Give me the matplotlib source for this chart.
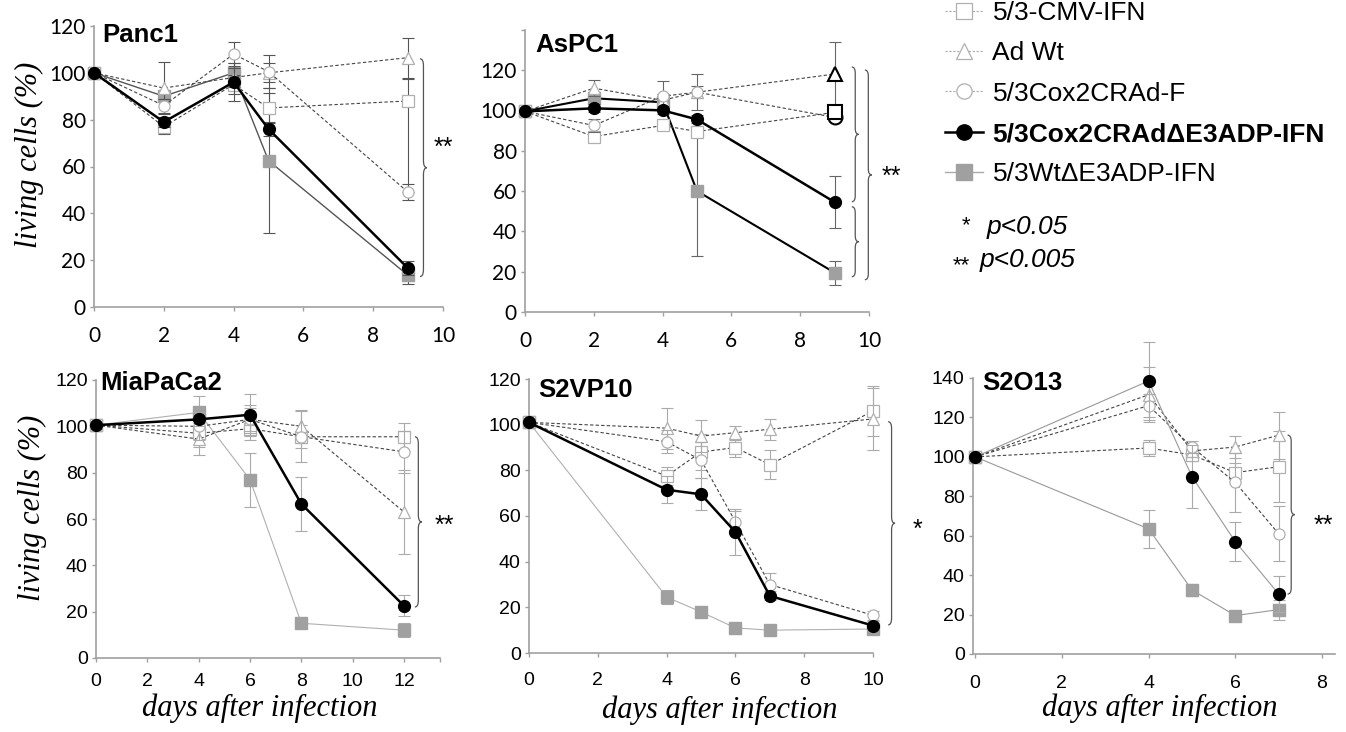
import numpy as np
import matplotlib
matplotlib.use("Agg")
import matplotlib.pyplot as plt
from matplotlib.lines import Line2D
from matplotlib.path import Path
from matplotlib.patches import PathPatch
from matplotlib.transforms import blended_transform_factory

plt.rcParams['font.family'] = ['Liberation Sans', 'DejaVu Sans']

# series order: CMV, Ad Wt, CRAd-F, CRAd dE3ADP, Wt dE3ADP
series = ['5/3-CMV-IFN', 'Ad Wt', '5/3Cox2CRAd-F',
          '5/3Cox2CRAd\u0394E3ADP-IFN', '5/3Wt\u0394E3ADP-IFN']

# Panc1
panc1_days = [0, 2, 4, 5, 9]
panc1_vals = [[100, 77, 95, 85, 88],
              [100, 93.5, 98, 100, 106.5],
              [100, 86, 108, 100.5, 49],
              [100, 79, 96, 76, 16.5],
              [100, 90, 100, 62.5, 13.5]]
panc1_hi = [[0, 3, 4, 6.5, 9.5],
            [0, 11, 4, 4, 8.5],
            [0, 3, 5, 7, 3.5],
            [0, 2, 8, 3, 3],
            [0, 2, 4, 31, 3.7]]
panc1_lo = [[0, 3, 4, 6.5, 39],
            [0, 11, 4, 4, 8.5],
            [0, 3, 5, 7, 3.5],
            [0, 2, 8, 3, 3],
            [0, 2, 4, 31, 3.7]]

# AsPC1
aspc1_days = [0, 2, 4, 5, 9]
aspc1_vals = [[99.5, 87, 92.5, 89.5, 99],
              [99.5, 111, 105, 109, 118],
              [99.5, 92.5, 107, 109, 96.5],
              [99.5, 101, 100, 95.5, 54.5],
              [99.5, 106, 104, 60, 19.5]]
aspc1_err = [[0, 2, 2, 2, 3],
             [0, 4, 3, 3, 16],
             [0, 3, 7.5, 9, 2],
             [0, 2, 2, 2, 13],
             [0, 3, 3, 32, 6]]

# MiaPaCa2
mia_days = [0, 4, 6, 8, 12]
mia_vals = [[100.5, 97, 99, 95.5, 95.5],
            [100.5, 94.5, 103, 100, 63],
            [100.5, 100, 103, 95.5, 89],
            [100.5, 103, 105, 66.5, 22.5],
            [100.5, 106, 77, 15, 12]]
mia_err = [[0, 6, 5, 5, 6],
           [0, 7, 5, 7, 18],
           [0, 6, 6, 11, 9],
           [0, 3, 9, 11.5, 4.5],
           [0, 7, 11.7, 2, 3]]

# S2VP10
s2vp_days = [0, 4, 5, 6, 7, 10]
s2vp_vals = [[101, 77.5, 88, 90, 82.5, 106],
             [101, 98.5, 95, 96.5, 98, 102.5],
             [101, 92.5, 84.5, 57.5, 30, 16.5],
             [101, 71.5, 69.5, 53, 25, 12],
             [101, 24.5, 18, 11, 10, 10.5]]
s2vp_err = [[0, 4, 8, 4, 6.5, 11],
            [0, 9, 7, 3, 4.5, 13.5],
            [0, 5, 8, 4.5, 5, 2],
            [0, 6, 7, 10, 2, 2],
            [0, 3, 2, 2, 1, 1]]

# S2O13
s2o_days = [0, 4, 5, 6, 7]
s2o_vals = [[100, 104.5, 101, 92, 95],
            [100, 131.5, 103, 105, 111],
            [100, 126, 105, 87, 61],
            [100, 138.5, 90, 57, 30.5],
            [100, 63.5, 32.5, 19.5, 22.5]]
s2o_err = [[0, 4, 3, 5, 18],
           [0, 14, 3, 5.5, 12],
           [0, 6, 3, 15, 14],
           [0, 20, 16, 10, 9],
           [0, 9.7, 3, 2, 5]]

W, H = 1346, 732


def px_rect(x0, x1, ytop, ybot):
    return [x0 / W, 1 - ybot / H, (x1 - x0) / W, (ybot - ytop) / H]


panels = [
    dict(name='Panc1', rect=px_rect(94, 443, 26, 307), days=panc1_days, vals=panc1_vals,
         lo=panc1_lo, hi=panc1_hi, xlim=(0, 10), xticks=range(0, 11, 2), ylim=(0, 120),
         yticks=range(0, 121, 20), ylab=True, xlab=None, tfont='Lato', tsize=15, xpad=11,
         title=(0.023, 0.968), ecolor='#555555', wt=('#555555', 1.0), e3=('black', 1.8),
         braces=[(106, 13, 0.934)], star=('**', 1.0, 68), dark_last=[]),
    dict(name='AsPC1', rect=px_rect(525, 869, 29.7, 312), days=aspc1_days, vals=aspc1_vals,
         lo=aspc1_err, hi=aspc1_err, xlim=(0, 10), xticks=range(0, 11, 2), ylim=(0, 140),
         yticks=range(0, 141, 20), ylab=False, xlab=None, tfont='Lato', tsize=15, xpad=11,
         title=(0.029, 0.946), ecolor='#666666', wt=('black', 1.5), e3=('black', 1.8),
         braces=[(121.5, 54.7, 0.95), (52.2, 17.5, 0.95), (120, 16, 0.988)],
         star=('**', 1.064, 67), dark_last=[0, 1, 2]),
    dict(name='MiaPaCa2', rect=px_rect(96, 440, 380, 658), days=mia_days, vals=mia_vals,
         lo=mia_err, hi=mia_err, xlim=(0, 13.4), xticks=range(0, 13, 2), ylim=(0, 120),
         yticks=range(0, 121, 20), ylab=True, xlab=(0.477, -0.18), tfont='Liberation Sans',
         tsize=14, xpad=8, title=(0.012, 0.99), ecolor='#aaaaaa', wt=('#b0b0b0', 0.8),
         e3=('black', 1.8), braces=[(95.5, 22, 0.927)], star=('**', 1.012, 57),
         dark_last=[]),
    dict(name='S2VP10', rect=px_rect(529, 873, 379, 653), days=s2vp_days, vals=s2vp_vals,
         lo=s2vp_err, hi=s2vp_err, xlim=(0, 10), xticks=range(0, 11, 2), ylim=(0, 120),
         yticks=range(0, 121, 20), ylab=False, xlab=(0.555, -0.208),
         tfont='Liberation Sans', tsize=14, xpad=11, title=(0.026, 0.96), ecolor='#aaaaaa',
         wt=('#b0b0b0', 0.8), e3=('black', 1.8), braces=[(101.3, 12.3, 1.044)],
         star=('*', 1.128, 54), dark_last=[]),
    dict(name='S2O13', rect=px_rect(973, 1335, 378, 654), days=s2o_days, vals=s2o_vals,
         lo=s2o_err, hi=s2o_err, xlim=(-0.05, 8.3), xticks=range(0, 9, 2), ylim=(0, 140),
         yticks=range(0, 141, 20), ylab=False, xlab=(0.517, -0.196),
         tfont='Liberation Sans', tsize=14, xpad=12, title=(0.025, 0.982),
         ecolor='#aaaaaa', wt=('#999999', 0.8), e3=('#999999', 0.8),
         braces=[(111, 30.4, 0.869)], star=('**', 0.969, 65), dark_last=[]),
]

dash = (0, (3, 2))
open_mk = ['s', '^', 'o']
plot_order = [4, 0, 1, 2, 3]


def brace(ax, y_hi, y_lo, xa, w=0.02, r=3.0):
    trans = blended_transform_factory(ax.transAxes, ax.transData)
    xm, x1, ym = xa + w / 2, xa + w, (y_hi + y_lo) / 2
    verts = [(xa, y_hi), (xm, y_hi), (xm, y_hi - r), (xm, ym + r), (xm, ym), (x1, ym),
             (xm, ym), (xm, ym - r), (xm, y_lo + r), (xm, y_lo), (xa, y_lo)]
    codes = [Path.MOVETO, Path.CURVE3, Path.CURVE3, Path.LINETO, Path.CURVE3, Path.CURVE3,
             Path.CURVE3, Path.CURVE3, Path.LINETO, Path.CURVE3, Path.CURVE3]
    ax.add_patch(PathPatch(Path(verts, codes), transform=trans, fill=False,
                           ec='#555555', lw=0.9, clip_on=False))


fig = plt.figure(figsize=(W / 100, H / 100), dpi=100)

for p in panels:
    ax = fig.add_axes(p['rect'])
    for z, i in enumerate(plot_order):
        eb = ax.errorbar(p['days'], p['vals'][i], yerr=[p['lo'][i], p['hi'][i]], fmt='none',
                         ecolor=p['ecolor'], elinewidth=0.8, capsize=4, capthick=0.8,
                         zorder=2 + z)
        for art in list(eb.lines[1]) + list(eb.lines[2]):
            art.set_clip_on(False)
        if i < 3:
            ax.plot(p['days'], p['vals'][i], color='#444444', lw=0.8, ls=dash,
                    marker=open_mk[i], ms=8, mfc='white', mec='#b0b0b0', mew=0.9,
                    zorder=2.5 + z, clip_on=False)
        elif i == 3:
            ax.plot(p['days'], p['vals'][i], color=p['e3'][0], lw=p['e3'][1],
                    marker='o', ms=8.5, mfc='black', mec='black', zorder=2.5 + z,
                    clip_on=False)
        else:
            ax.plot(p['days'], p['vals'][i], color=p['wt'][0], lw=p['wt'][1],
                    marker='s', ms=8, mfc='#a0a0a0', mec='#a0a0a0', zorder=2.5 + z,
                    clip_on=False)
    for i in p['dark_last']:
        ax.plot(p['days'][-1:], p['vals'][i][-1:], ls='none', marker=open_mk[i], ms=10,
                mfc='white', mec='black', mew=1.5, zorder=8 - i, clip_on=False)

    ax.set_xlim(*p['xlim'])
    ax.set_ylim(*p['ylim'])
    ax.set_xticks(list(p['xticks']))
    ax.set_yticks(list(p['yticks']))
    if p['name'] == 'AsPC1':
        ax.set_yticklabels([str(v) for v in range(0, 121, 20)] + [''])
    if p['name'] == 'MiaPaCa2':
        ax.set_xticks([p['xlim'][1]], minor=True)
    for s in ['top', 'right']:
        ax.spines[s].set_visible(False)
    for s in ['left', 'bottom']:
        ax.spines[s].set_color('#a0a0a0')
        ax.spines[s].set_linewidth(1.2)
    ax.tick_params(which='both', direction='out', length=3, width=1.0, color='#a0a0a0')
    ax.tick_params(axis='y', pad=3)
    ax.tick_params(axis='x', pad=p['xpad'])
    for lab in ax.get_xticklabels() + ax.get_yticklabels():
        lab.set_fontfamily(p['tfont'])
        lab.set_fontsize(p['tsize'])

    ax.text(p['title'][0], p['title'][1], p['name'], transform=ax.transAxes,
            fontsize=18.5, fontweight='bold', ha='left', va='center')

    if p['ylab']:
        ax.set_ylabel('living cells (%)', family='Liberation Serif', style='italic',
                      fontsize=22)
        ax.yaxis.label.set_va('center')
        ax.yaxis.set_label_coords(-0.185, 0.54)
    if p['xlab']:
        ax.set_xlabel('days after infection', family='Liberation Serif', style='italic',
                      fontsize=22)
        ax.xaxis.label.set_va('center')
        ax.xaxis.set_label_coords(*p['xlab'])

    for b in p['braces']:
        brace(ax, *b)
    trans = blended_transform_factory(ax.transAxes, ax.transData)
    ax.text(p['star'][1], p['star'][2], p['star'][0], transform=trans, fontsize=18,
            ha='center', va='center', clip_on=False)

# legend
handles = [
    Line2D([], [], color='#aaaaaa', lw=0.8, ls=(0, (2, 1.5)), marker='s', ms=11,
           mfc='white', mec='#b0b0b0', mew=0.9),
    Line2D([], [], color='#aaaaaa', lw=0.8, ls=(0, (2, 1.5)), marker='^', ms=12,
           mfc='white', mec='#b0b0b0', mew=0.9),
    Line2D([], [], color='#aaaaaa', lw=0.8, ls=(0, (2, 1.5)), marker='o', ms=11,
           mfc='white', mec='#b0b0b0', mew=0.9),
    Line2D([], [], color='black', lw=1.8, marker='o', ms=11, mfc='black', mec='black'),
    Line2D([], [], color='#aaaaaa', lw=1.0, marker='s', ms=11, mfc='#a0a0a0',
           mec='#a0a0a0'),
]
leg = fig.legend(handles, series, loc='upper left', bbox_to_anchor=(945 / W, 1 - 1 / H),
                 frameon=False, fontsize=19, handlelength=1.45, handletextpad=0.35,
                 labelspacing=0.62, borderpad=0, borderaxespad=0)
leg.get_texts()[3].set_fontweight('bold')

fig.text(966 / W, 1 - 226 / H, '*', fontsize=16, ha='center', va='center')
fig.text(987 / W, 1 - 234 / H, 'p<0.05', fontsize=19, style='italic', va='baseline')
fig.text(961 / W, 1 - 266 / H, '**', fontsize=16, ha='center', va='center')
fig.text(980 / W, 1 - 267 / H, 'p<0.005', fontsize=19, style='italic', va='baseline')

fig.savefig('out.png', dpi=100)
